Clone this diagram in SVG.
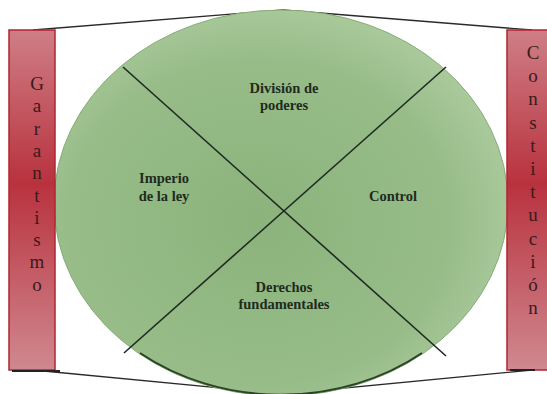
<svg xmlns="http://www.w3.org/2000/svg" width="547" height="394" viewBox="0 0 547 394">
  <defs>
    <radialGradient id="gGreen" cx="0.45" cy="0.55" r="0.6">
      <stop offset="0" stop-color="#8cb37c"/>
      <stop offset="0.7" stop-color="#97bc88"/>
      <stop offset="1" stop-color="#aecca0"/>
    </radialGradient>
    <linearGradient id="gRed" x1="0" y1="0" x2="0" y2="1">
      <stop offset="0" stop-color="#cf7e86"/>
      <stop offset="0.45" stop-color="#b8323e"/>
      <stop offset="1" stop-color="#d08890"/>
    </linearGradient>
    <style>
      .bar { fill: url(#gRed); stroke: #b2242f; stroke-width: 1.5; }
      .vtxt { font-family: "Liberation Serif", "Times New Roman", serif; font-size: 19px; fill: #3a1a1c; text-anchor: middle; }
      .lbl { font-family: "Liberation Serif", "Times New Roman", serif; font-size: 14.5px; font-weight: bold; fill: #1f2b1d; text-anchor: middle; }
      .ln { stroke: #1e2a22; stroke-width: 1.6; fill: none; }
      .frame { stroke: #2a2a2a; stroke-width: 1.3; fill: none; }
    </style>
  </defs>
  <rect width="547" height="394" fill="#ffffff"/>

  <g id="connectors">
    <polyline class="frame" points="33,30 283,10 532,30"/>
    <polyline class="frame" points="33,370 283,394 532,370"/>
  </g>

  <g id="circle">
    <ellipse cx="281" cy="203" rx="227" ry="193" fill="url(#gGreen)" stroke="#86ad77" stroke-width="1"/>
    <path d="M 140 353 A 227 193 0 0 0 422 353" fill="none" stroke="#2c4326" stroke-width="2"/>
    <line class="ln" x1="123" y1="67" x2="446" y2="356"/>
    <line class="ln" x1="446" y1="67" x2="124" y2="353"/>
  </g>

  <g id="division">
    <text class="lbl" x="284" y="93">División de</text>
    <text class="lbl" x="284" y="110">poderes</text>
  </g>
  <g id="imperio">
    <text class="lbl" x="164" y="183">Imperio</text>
    <text class="lbl" x="164" y="201">de la ley</text>
  </g>
  <g id="control">
    <text class="lbl" x="393" y="201">Control</text>
  </g>
  <g id="derechos">
    <text class="lbl" x="284" y="292">Derechos</text>
    <text class="lbl" x="284" y="309">fundamentales</text>
  </g>

  <g id="garantismo">
    <rect class="bar" x="9" y="30" width="46" height="340"/>
    <line x1="12" y1="371" x2="60" y2="371" stroke="#222" stroke-width="2"/>
    <text class="vtxt" x="37" y="90">G</text>
    <text class="vtxt" x="37" y="112">a</text>
    <text class="vtxt" x="37" y="135">r</text>
    <text class="vtxt" x="37" y="157">a</text>
    <text class="vtxt" x="37" y="179">n</text>
    <text class="vtxt" x="37" y="202">t</text>
    <text class="vtxt" x="37" y="224">i</text>
    <text class="vtxt" x="37" y="246">s</text>
    <text class="vtxt" x="37" y="268">m</text>
    <text class="vtxt" x="37" y="291">o</text>
  </g>

  <g id="constitucion">
    <rect class="bar" x="507" y="30" width="46" height="340"/>
    <line x1="510" y1="370" x2="535" y2="370" stroke="#222" stroke-width="2"/>
    <text class="vtxt" x="533" y="59">C</text>
    <text class="vtxt" x="533" y="82">o</text>
    <text class="vtxt" x="533" y="105">n</text>
    <text class="vtxt" x="533" y="129">s</text>
    <text class="vtxt" x="533" y="152">t</text>
    <text class="vtxt" x="533" y="175">i</text>
    <text class="vtxt" x="533" y="198">t</text>
    <text class="vtxt" x="533" y="221">u</text>
    <text class="vtxt" x="533" y="245">c</text>
    <text class="vtxt" x="533" y="268">i</text>
    <text class="vtxt" x="533" y="291">ó</text>
    <text class="vtxt" x="533" y="314">n</text>
  </g>
</svg>
